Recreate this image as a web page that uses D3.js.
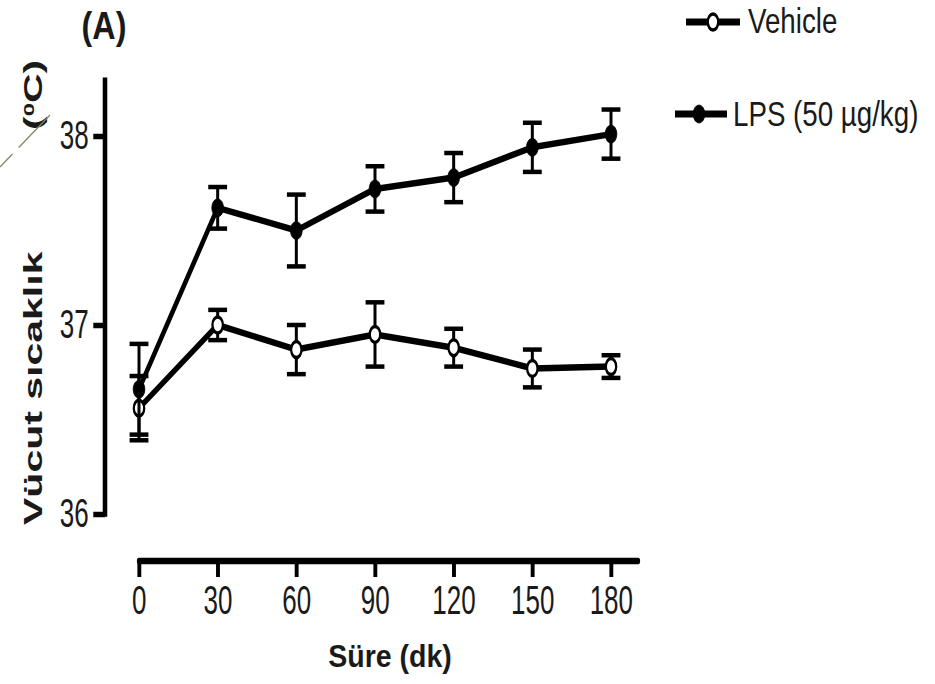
<!DOCTYPE html>
<html>
<head>
<meta charset="utf-8">
<script src="https://cdn.jsdelivr.net/npm/d3@7"></script>
<style>
  html, body { margin: 0; padding: 0; background: #fff; }
  svg { display: block; }
  text { font-family: "Liberation Sans", Arial, sans-serif; fill: #1a1a1a; }
</style>
</head>
<body>
<script>
// Body temperature over time, vehicle vs LPS (mean ± SEM)
const times = [0, 30, 60, 90, 120, 150, 180];
const xTicks = [0, 30, 60, 90, 120, 150, 180];
const yTicks = [36, 37, 38];

const vehicleMean = [36.56, 37.00, 36.87, 36.95, 36.88, 36.77, 36.78];
const vehicleSem  = [0.17, 0.08, 0.13, 0.17, 0.10, 0.10, 0.06];
const lpsMean     = [36.66, 37.62, 37.50, 37.72, 37.78, 37.94, 38.01];
const lpsSem      = [0.24, 0.11, 0.19, 0.12, 0.13, 0.13, 0.13];

const seriesNames = ["Vehicle", "LPS (50 µg/kg)"];

const W = 935, H = 684;
const sx = 0.65;              // horizontal compression of the figure
const gx = px => px / sx;     // page x -> x inside the compressed group

const svg = d3.select("body").append("svg")
  .attr("width", W).attr("height", H);

const g = svg.append("g").attr("transform", `scale(${sx},1)`);

const x = d3.scaleLinear().domain([0, 180]).range([gx(139), gx(611)]);
const y = d3.scaleLinear().domain([36, 38]).range([514, 136]);
const yTop = 38.31;
const xEnd = 190.3;
const tickFont = "40px";

// ---- Y axis ----
const yAxisX = gx(105);
const yAxis = g.append("g")
  .attr("transform", `translate(${yAxisX},0)`)
  .call(d3.axisLeft(y).tickValues(yTicks).tickSize(18).tickPadding(7)
        .tickSizeOuter(0).tickFormat(d3.format("d")));
yAxis.select(".domain").remove();
yAxis.selectAll(".tick line").attr("stroke", "#000").attr("stroke-width", 5.5);
yAxis.selectAll(".tick text").style("font-size", tickFont).attr("fill", "#1a1a1a");
yAxis.append("line")
  .attr("x1", 0).attr("x2", 0)
  .attr("y1", y(yTop)).attr("y2", y(36) + 2.7)
  .attr("stroke", "#000").attr("stroke-width", 7);

// ---- X axis ----
const xAxisY = 561;
const xAxis = g.append("g")
  .attr("transform", `translate(0,${xAxisY})`)
  .call(d3.axisBottom(x).tickValues(xTicks).tickSize(16).tickPadding(9)
        .tickSizeOuter(0).tickFormat(d3.format("d")));
xAxis.select(".domain").remove();
xAxis.selectAll(".tick line").attr("stroke", "#000").attr("stroke-width", 6);
xAxis.selectAll(".tick text").style("font-size", tickFont).attr("fill", "#1a1a1a");
xAxis.append("line")
  .attr("x1", x(0)).attr("x2", x(xEnd))
  .attr("y1", 0).attr("y2", 0)
  .attr("stroke", "#000").attr("stroke-width", 6.5)
  .attr("stroke-linecap", "round");

// ---- Series ----
const capHalf = 14.5;
function drawSeries(means, sems, filled) {
  const data = times.map((t, i) => ({ t, m: means[i], s: sems[i] }));
  const s = g.append("g");
  const eb = s.selectAll("g.eb").data(data).join("g").attr("class", "eb");
  eb.append("line")
    .attr("x1", d => x(d.t)).attr("x2", d => x(d.t))
    .attr("y1", d => y(d.m + d.s)).attr("y2", d => y(d.m - d.s))
    .attr("stroke", "#000").attr("stroke-width", 4.6);
  [1, -1].forEach(sign => {
    eb.append("line")
      .attr("x1", d => x(d.t) - capHalf).attr("x2", d => x(d.t) + capHalf)
      .attr("y1", d => y(d.m + sign * d.s)).attr("y2", d => y(d.m + sign * d.s))
      .attr("stroke", "#000").attr("stroke-width", 4.5);
  });
  s.append("path")
    .datum(data)
    .attr("d", d3.line().x(d => x(d.t)).y(d => y(d.m)))
    .attr("fill", "none").attr("stroke", "#000")
    .attr("stroke-width", 6.5).attr("stroke-linejoin", "round");
  s.selectAll("circle").data(data).join("circle")
    .attr("cx", d => x(d.t)).attr("cy", d => y(d.m))
    .attr("r", filled ? 9 : 8)
    .attr("fill", filled ? "#000" : "#fff")
    .attr("stroke", "#000").attr("stroke-width", filled ? 1 : 3.5);
}
drawSeries(vehicleMean, vehicleSem, false);
drawSeries(lpsMean, lpsSem, true);

// ---- Legend ----
const legendItems = [
  { name: seriesNames[0], x1: 686, x2: 740, mx: 713, y: 22, tx: 748, ty: 33, filled: false },
  { name: seriesNames[1], x1: 675, x2: 727, mx: 699, y: 114, tx: 733, ty: 126, filled: true }
];
legendItems.forEach(it => {
  g.append("line")
    .attr("x1", gx(it.x1)).attr("x2", gx(it.x2))
    .attr("y1", it.y).attr("y2", it.y)
    .attr("stroke", "#000").attr("stroke-width", 7);
  g.append("circle")
    .attr("cx", gx(it.mx)).attr("cy", it.y)
    .attr("r", it.filled ? 9 : 8)
    .attr("fill", it.filled ? "#000" : "#fff")
    .attr("stroke", "#000").attr("stroke-width", it.filled ? 1 : 3.5);
  svg.append("text")
    .attr("transform", `translate(${it.tx},${it.ty}) scale(0.77,1)`)
    .style("font-size", "36px")
    .attr("fill", "#2a2424")
    .text(it.name);
});

// ---- Titles ----
svg.append("text")
  .attr("transform", "translate(104,39) scale(0.85,1)")
  .attr("text-anchor", "middle")
  .style("font-size", "38px").style("font-weight", "bold")
  .text("(A)");

svg.append("text")
  .attr("transform", "translate(390,667) scale(0.92,1)")
  .attr("text-anchor", "middle")
  .style("font-size", "31px").style("font-weight", "bold")
  .text("Süre (dk)");

svg.append("text")
  .attr("transform", "translate(42,525) scale(0.62,1) rotate(-90)")
  .style("font-size", "41px").style("font-weight", "bold")
  .text("Vücut sıcaklık");

const unit = svg.append("text")
  .attr("transform", "translate(42,130) scale(0.62,1) rotate(-90)")
  .style("font-size", "41px").style("font-weight", "bold");
unit.append("tspan").text("(");
unit.append("tspan").attr("baseline-shift", "super").style("font-size", "24px").text("0");
unit.append("tspan").text("C)");

// thin diagonal stroke crossing the unit label
svg.append("line")
  .attr("x1", 0).attr("y1", 167).attr("x2", 50).attr("y2", 115)
  .attr("stroke", "#8f8466").attr("stroke-width", 1.3)
  .attr("stroke-dasharray", "18,9,60");
</script>
</body>
</html>
